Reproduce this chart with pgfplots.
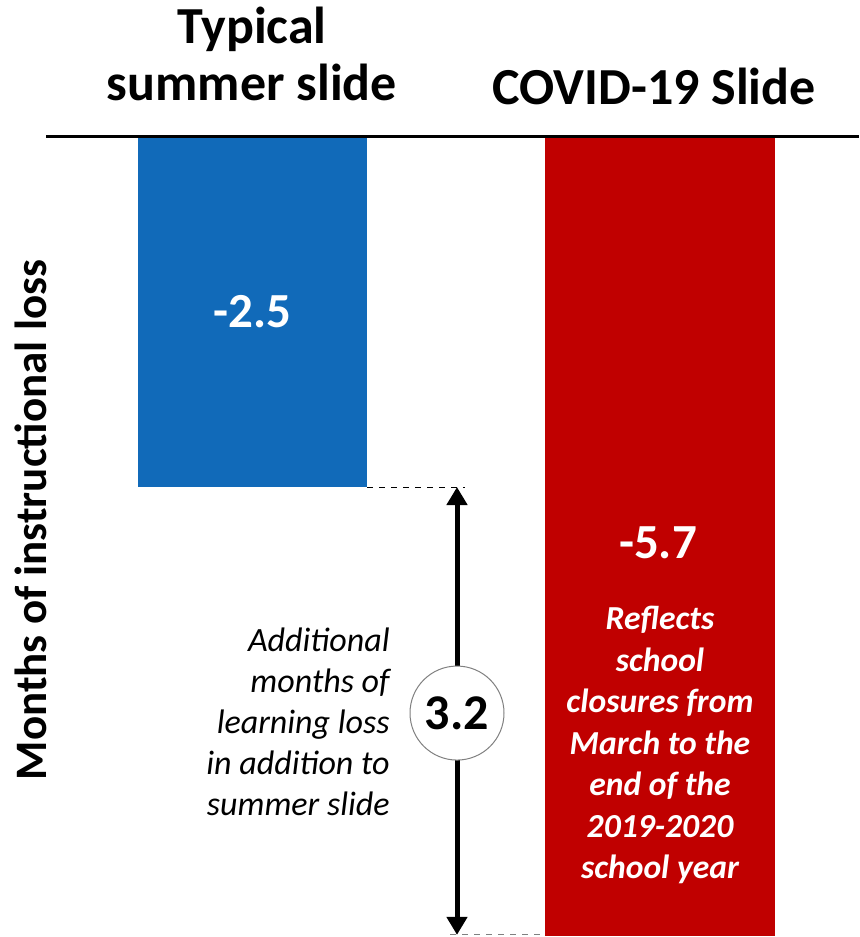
\documentclass[border=0pt]{standalone}
\usepackage{pgfplots}
\pgfplotsset{compat=1.18}
\usepackage{fontspec}
\setmainfont{Carlito}
\usetikzlibrary{arrows.meta}
\definecolor{barblue}{RGB}{17,106,185}
\definecolor{barred}{RGB}{192,0,0}
\definecolor{baseline}{RGB}{64,64,64}
\begin{document}
\begin{tikzpicture}
\begin{axis}[
  scale only axis, width=429.5pt, height=468.5pt,
  xmin=0, xmax=859, ymin=-5.705, ymax=0.969,
  axis lines=none, ticks=none, clip=false,
]
\addplot[ybar, bar shift=0pt, bar width=229, fill=barblue, draw=none] coordinates {(252.5,-2.5)};
\addplot[ybar, bar shift=0pt, bar width=230, fill=barred, draw=none] coordinates {(660,-5.7)};
% baseline
\draw[baseline, line width=1.5pt] (axis cs:46,0) -- (axis cs:859,0);
% titles
\node[anchor=base, inner sep=0pt, font=\fontsize{26}{31}\selectfont\bfseries] at (axis cs:252,0.662) {Typical};
\node[anchor=base, inner sep=0pt, font=\fontsize{26}{31}\selectfont\bfseries] at (axis cs:252,0.256) {summer slide};
\node[anchor=base, inner sep=0pt, font=\fontsize{26}{31}\selectfont\bfseries] at (axis cs:654,0.228) {COVID-19 Slide};
% values
\node[white, font=\fontsize{24.5}{28}\selectfont\bfseries] at (axis cs:252.5,-1.254) {-2.5};
\node[white, font=\fontsize{24.5}{28}\selectfont\bfseries] at (axis cs:658,-2.899) {-5.7};
\node[white, align=center, inner sep=0pt, font=\fontsize{16.8}{20.75}\selectfont\bfseries\itshape] at (axis cs:660,-4.338)
  {Reflects\\school\\closures from\\March to the\\end of the\\2019-2020\\school year};
% dashed guides
\draw[black, dashed, line width=0.5pt] (axis cs:367,-2.5) -- (axis cs:465,-2.5);
\draw[gray, dashed, line width=0.5pt] (axis cs:450,-5.69) -- (axis cs:545,-5.69);
% arrow
\draw[black, line width=2.5pt, {Triangle[length=9pt,width=10pt]}-{Triangle[length=9pt,width=10pt]}] (axis cs:457,-2.5) -- (axis cs:457,-5.69);
\node[circle, draw=gray, fill=white, line width=0.5pt, minimum size=47pt, inner sep=0pt, font=\fontsize{25}{28}\selectfont\bfseries] at (axis cs:457,-4.110) {3.2};
% side text
\node[anchor=east, align=right, inner sep=0pt, font=\fontsize{17}{20.5}\selectfont\itshape] at (axis cs:390,-4.174)
  {Additional\\months of\\learning loss\\in addition to\\summer slide};
% y label
\node[rotate=90, inner sep=0pt, font=\fontsize{22.5}{26}\selectfont\bfseries] at (axis cs:31,-2.735) {Months of instructional loss};
\end{axis}
\pgfresetboundingbox
\path[use as bounding box] (current axis.south west) rectangle (current axis.north east);
\end{tikzpicture}
\end{document}
